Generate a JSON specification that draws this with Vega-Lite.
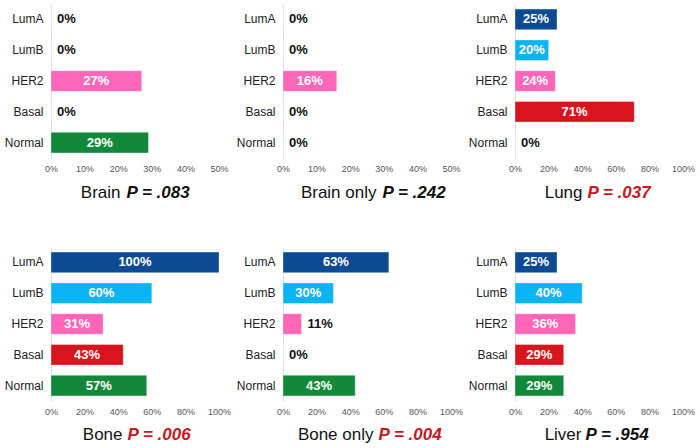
{
  "$schema": "https://vega.github.io/schema/vega-lite/v6.json",
  "padding": {"left": 4, "top": 4, "right": 2, "bottom": 2},
  "background": "white",
  "config": {"view": {"stroke": null}, "font": "Liberation Sans", "axisX": {"labelFlush": false, "labelOverlap": false, "labelBound": false}},
  "data": {"values": [
    {"panel": "Brain", "subtype": "LumA", "v": 0},
    {"panel": "Brain", "subtype": "LumB", "v": 0},
    {"panel": "Brain", "subtype": "HER2", "v": 0.27},
    {"panel": "Brain", "subtype": "Basal", "v": 0},
    {"panel": "Brain", "subtype": "Normal", "v": 0.29},
    {"panel": "Brain only", "subtype": "LumA", "v": 0},
    {"panel": "Brain only", "subtype": "LumB", "v": 0},
    {"panel": "Brain only", "subtype": "HER2", "v": 0.16},
    {"panel": "Brain only", "subtype": "Basal", "v": 0},
    {"panel": "Brain only", "subtype": "Normal", "v": 0},
    {"panel": "Lung", "subtype": "LumA", "v": 0.25},
    {"panel": "Lung", "subtype": "LumB", "v": 0.20},
    {"panel": "Lung", "subtype": "HER2", "v": 0.24},
    {"panel": "Lung", "subtype": "Basal", "v": 0.71},
    {"panel": "Lung", "subtype": "Normal", "v": 0},
    {"panel": "Bone", "subtype": "LumA", "v": 1.0},
    {"panel": "Bone", "subtype": "LumB", "v": 0.60},
    {"panel": "Bone", "subtype": "HER2", "v": 0.31},
    {"panel": "Bone", "subtype": "Basal", "v": 0.43},
    {"panel": "Bone", "subtype": "Normal", "v": 0.57},
    {"panel": "Bone only", "subtype": "LumA", "v": 0.63},
    {"panel": "Bone only", "subtype": "LumB", "v": 0.30},
    {"panel": "Bone only", "subtype": "HER2", "v": 0.11},
    {"panel": "Bone only", "subtype": "Basal", "v": 0},
    {"panel": "Bone only", "subtype": "Normal", "v": 0.43},
    {"panel": "Liver", "subtype": "LumA", "v": 0.25},
    {"panel": "Liver", "subtype": "LumB", "v": 0.40},
    {"panel": "Liver", "subtype": "HER2", "v": 0.36},
    {"panel": "Liver", "subtype": "Basal", "v": 0.29},
    {"panel": "Liver", "subtype": "Normal", "v": 0.29}
  ]},
  "columns": 3,
  "bounds": "flush",
  "spacing": {"row": 89, "column": 64},
  "concat": [
      {"width": 168, "height": 154, "transform": [{"filter": "datum.panel === 'Brain'"}], "resolve": {"scale": {"x": "independent"}},
       "layer": [
        {"mark": {"type": "bar", "stroke": "white", "strokeOpacity": 0.35, "strokeWidth": 1},
         "encoding": {
          "y": {"field": "subtype", "type": "nominal", "sort": ["LumA", "LumB", "HER2", "Basal", "Normal"], "scale": {"paddingInner": 0.33, "paddingOuter": 0.165},
                "axis": {"title": "Brain", "titleAngle": 0, "titleAlign": "right", "titleBaseline": "alphabetic", "titleX": 69, "titleY": 193, "titleFontSize": 17, "titleFontWeight": "normal", "titleColor": "#111", "ticks": false, "domainColor": "#dddddd", "labelPadding": 8, "labelFontSize": 12, "labelColor": "#222"}},
          "x": {"field": "v", "type": "quantitative", "scale": {"domain": [0, 0.5]},
                "axis": {"title": "P = .083", "titleAlign": "left", "titleBaseline": "alphabetic", "titleX": 75, "titleY": 39, "titleFontSize": 17, "titleFontWeight": "bold", "titleFontStyle": "italic", "titleColor": "#111", "values": [0, 0.1, 0.2, 0.3, 0.4, 0.5], "format": ".0%", "grid": false, "ticks": false, "domain": false, "labelPadding": 6, "labelFontSize": 9, "labelColor": "#555"}},
          "color": {"field": "subtype", "type": "nominal", "legend": null, "scale": {"domain": ["LumA", "LumB", "HER2", "Basal", "Normal"], "range": ["#0c4a92", "#0ab4f5", "#ff66b8", "#d8141c", "#12893a"]}}
         }},
        {"transform": [{"filter": "datum.v >= 0.15"}], "mark": {"type": "text", "color": "white", "fontWeight": "bold", "fontSize": 13, "align": "center", "baseline": "middle"},
         "encoding": {"y": {"field": "subtype", "type": "nominal", "sort": ["LumA", "LumB", "HER2", "Basal", "Normal"]}, "x": {"field": "v", "type": "quantitative", "scale": {"domain": [0, 1.0]}, "axis": null}, "text": {"field": "v", "format": ".0%"}}},
        {"transform": [{"filter": "datum.v < 0.15"}], "mark": {"type": "text", "color": "#111", "fontWeight": "bold", "fontSize": 13, "align": "left", "baseline": "middle", "dx": 6},
         "encoding": {"y": {"field": "subtype", "type": "nominal", "sort": ["LumA", "LumB", "HER2", "Basal", "Normal"]}, "x": {"field": "v", "type": "quantitative", "scale": {"domain": [0, 0.5]}, "axis": null}, "text": {"field": "v", "format": ".0%"}}}
       ]},
      {"width": 168, "height": 154, "transform": [{"filter": "datum.panel === 'Brain only'"}], "resolve": {"scale": {"x": "independent"}},
       "layer": [
        {"mark": {"type": "bar", "stroke": "white", "strokeOpacity": 0.35, "strokeWidth": 1},
         "encoding": {
          "y": {"field": "subtype", "type": "nominal", "sort": ["LumA", "LumB", "HER2", "Basal", "Normal"], "scale": {"paddingInner": 0.33, "paddingOuter": 0.165},
                "axis": {"title": "Brain only", "titleAngle": 0, "titleAlign": "right", "titleBaseline": "alphabetic", "titleX": 93, "titleY": 193, "titleFontSize": 17, "titleFontWeight": "normal", "titleColor": "#111", "ticks": false, "domainColor": "#dddddd", "labelPadding": 8, "labelFontSize": 12, "labelColor": "#222"}},
          "x": {"field": "v", "type": "quantitative", "scale": {"domain": [0, 0.5]},
                "axis": {"title": "P = .242", "titleAlign": "left", "titleBaseline": "alphabetic", "titleX": 99, "titleY": 39, "titleFontSize": 17, "titleFontWeight": "bold", "titleFontStyle": "italic", "titleColor": "#111", "values": [0, 0.1, 0.2, 0.3, 0.4, 0.5], "format": ".0%", "grid": false, "ticks": false, "domain": false, "labelPadding": 6, "labelFontSize": 9, "labelColor": "#555"}},
          "color": {"field": "subtype", "type": "nominal", "legend": null, "scale": {"domain": ["LumA", "LumB", "HER2", "Basal", "Normal"], "range": ["#0c4a92", "#0ab4f5", "#ff66b8", "#d8141c", "#12893a"]}}
         }},
        {"transform": [{"filter": "datum.v >= 0.15"}], "mark": {"type": "text", "color": "white", "fontWeight": "bold", "fontSize": 13, "align": "center", "baseline": "middle"},
         "encoding": {"y": {"field": "subtype", "type": "nominal", "sort": ["LumA", "LumB", "HER2", "Basal", "Normal"]}, "x": {"field": "v", "type": "quantitative", "scale": {"domain": [0, 1.0]}, "axis": null}, "text": {"field": "v", "format": ".0%"}}},
        {"transform": [{"filter": "datum.v < 0.15"}], "mark": {"type": "text", "color": "#111", "fontWeight": "bold", "fontSize": 13, "align": "left", "baseline": "middle", "dx": 6},
         "encoding": {"y": {"field": "subtype", "type": "nominal", "sort": ["LumA", "LumB", "HER2", "Basal", "Normal"]}, "x": {"field": "v", "type": "quantitative", "scale": {"domain": [0, 0.5]}, "axis": null}, "text": {"field": "v", "format": ".0%"}}}
       ]},
      {"width": 168, "height": 154, "transform": [{"filter": "datum.panel === 'Lung'"}], "resolve": {"scale": {"x": "independent"}},
       "layer": [
        {"mark": {"type": "bar", "stroke": "white", "strokeOpacity": 0.35, "strokeWidth": 1},
         "encoding": {
          "y": {"field": "subtype", "type": "nominal", "sort": ["LumA", "LumB", "HER2", "Basal", "Normal"], "scale": {"paddingInner": 0.33, "paddingOuter": 0.165},
                "axis": {"title": "Lung", "titleAngle": 0, "titleAlign": "right", "titleBaseline": "alphabetic", "titleX": 67, "titleY": 193, "titleFontSize": 17, "titleFontWeight": "normal", "titleColor": "#111", "ticks": false, "domainColor": "#dddddd", "labelPadding": 8, "labelFontSize": 12, "labelColor": "#222"}},
          "x": {"field": "v", "type": "quantitative", "scale": {"domain": [0, 1]},
                "axis": {"title": "P = .037", "titleAlign": "left", "titleBaseline": "alphabetic", "titleX": 72, "titleY": 39, "titleFontSize": 17, "titleFontWeight": "bold", "titleFontStyle": "italic", "titleColor": "#c8161d", "values": [0, 0.2, 0.4, 0.6, 0.8, 1], "format": ".0%", "grid": false, "ticks": false, "domain": false, "labelPadding": 6, "labelFontSize": 9, "labelColor": "#555"}},
          "color": {"field": "subtype", "type": "nominal", "legend": null, "scale": {"domain": ["LumA", "LumB", "HER2", "Basal", "Normal"], "range": ["#0c4a92", "#0ab4f5", "#ff66b8", "#d8141c", "#12893a"]}}
         }},
        {"transform": [{"filter": "datum.v >= 0.15"}], "mark": {"type": "text", "color": "white", "fontWeight": "bold", "fontSize": 13, "align": "center", "baseline": "middle"},
         "encoding": {"y": {"field": "subtype", "type": "nominal", "sort": ["LumA", "LumB", "HER2", "Basal", "Normal"]}, "x": {"field": "v", "type": "quantitative", "scale": {"domain": [0, 2]}, "axis": null}, "text": {"field": "v", "format": ".0%"}}},
        {"transform": [{"filter": "datum.v < 0.15"}], "mark": {"type": "text", "color": "#111", "fontWeight": "bold", "fontSize": 13, "align": "left", "baseline": "middle", "dx": 6},
         "encoding": {"y": {"field": "subtype", "type": "nominal", "sort": ["LumA", "LumB", "HER2", "Basal", "Normal"]}, "x": {"field": "v", "type": "quantitative", "scale": {"domain": [0, 1]}, "axis": null}, "text": {"field": "v", "format": ".0%"}}}
       ]},
      {"width": 168, "height": 154, "transform": [{"filter": "datum.panel === 'Bone'"}], "resolve": {"scale": {"x": "independent"}},
       "layer": [
        {"mark": {"type": "bar", "stroke": "white", "strokeOpacity": 0.35, "strokeWidth": 1},
         "encoding": {
          "y": {"field": "subtype", "type": "nominal", "sort": ["LumA", "LumB", "HER2", "Basal", "Normal"], "scale": {"paddingInner": 0.33, "paddingOuter": 0.165},
                "axis": {"title": "Bone", "titleAngle": 0, "titleAlign": "right", "titleBaseline": "alphabetic", "titleX": 71, "titleY": 192, "titleFontSize": 17, "titleFontWeight": "normal", "titleColor": "#111", "ticks": false, "domainColor": "#dddddd", "labelPadding": 8, "labelFontSize": 12, "labelColor": "#222"}},
          "x": {"field": "v", "type": "quantitative", "scale": {"domain": [0, 1]},
                "axis": {"title": "P = .006", "titleAlign": "left", "titleBaseline": "alphabetic", "titleX": 76, "titleY": 38, "titleFontSize": 17, "titleFontWeight": "bold", "titleFontStyle": "italic", "titleColor": "#c8161d", "values": [0, 0.2, 0.4, 0.6, 0.8, 1], "format": ".0%", "grid": false, "ticks": false, "domain": false, "labelPadding": 6, "labelFontSize": 9, "labelColor": "#555"}},
          "color": {"field": "subtype", "type": "nominal", "legend": null, "scale": {"domain": ["LumA", "LumB", "HER2", "Basal", "Normal"], "range": ["#0c4a92", "#0ab4f5", "#ff66b8", "#d8141c", "#12893a"]}}
         }},
        {"transform": [{"filter": "datum.v >= 0.15"}], "mark": {"type": "text", "color": "white", "fontWeight": "bold", "fontSize": 13, "align": "center", "baseline": "middle"},
         "encoding": {"y": {"field": "subtype", "type": "nominal", "sort": ["LumA", "LumB", "HER2", "Basal", "Normal"]}, "x": {"field": "v", "type": "quantitative", "scale": {"domain": [0, 2]}, "axis": null}, "text": {"field": "v", "format": ".0%"}}},
        {"transform": [{"filter": "datum.v < 0.15"}], "mark": {"type": "text", "color": "#111", "fontWeight": "bold", "fontSize": 13, "align": "left", "baseline": "middle", "dx": 6},
         "encoding": {"y": {"field": "subtype", "type": "nominal", "sort": ["LumA", "LumB", "HER2", "Basal", "Normal"]}, "x": {"field": "v", "type": "quantitative", "scale": {"domain": [0, 1]}, "axis": null}, "text": {"field": "v", "format": ".0%"}}}
       ]},
      {"width": 168, "height": 154, "transform": [{"filter": "datum.panel === 'Bone only'"}], "resolve": {"scale": {"x": "independent"}},
       "layer": [
        {"mark": {"type": "bar", "stroke": "white", "strokeOpacity": 0.35, "strokeWidth": 1},
         "encoding": {
          "y": {"field": "subtype", "type": "nominal", "sort": ["LumA", "LumB", "HER2", "Basal", "Normal"], "scale": {"paddingInner": 0.33, "paddingOuter": 0.165},
                "axis": {"title": "Bone only", "titleAngle": 0, "titleAlign": "right", "titleBaseline": "alphabetic", "titleX": 90, "titleY": 192, "titleFontSize": 17, "titleFontWeight": "normal", "titleColor": "#111", "ticks": false, "domainColor": "#dddddd", "labelPadding": 8, "labelFontSize": 12, "labelColor": "#222"}},
          "x": {"field": "v", "type": "quantitative", "scale": {"domain": [0, 1]},
                "axis": {"title": "P = .004", "titleAlign": "left", "titleBaseline": "alphabetic", "titleX": 95, "titleY": 38, "titleFontSize": 17, "titleFontWeight": "bold", "titleFontStyle": "italic", "titleColor": "#c8161d", "values": [0, 0.2, 0.4, 0.6, 0.8, 1], "format": ".0%", "grid": false, "ticks": false, "domain": false, "labelPadding": 6, "labelFontSize": 9, "labelColor": "#555"}},
          "color": {"field": "subtype", "type": "nominal", "legend": null, "scale": {"domain": ["LumA", "LumB", "HER2", "Basal", "Normal"], "range": ["#0c4a92", "#0ab4f5", "#ff66b8", "#d8141c", "#12893a"]}}
         }},
        {"transform": [{"filter": "datum.v >= 0.15"}], "mark": {"type": "text", "color": "white", "fontWeight": "bold", "fontSize": 13, "align": "center", "baseline": "middle"},
         "encoding": {"y": {"field": "subtype", "type": "nominal", "sort": ["LumA", "LumB", "HER2", "Basal", "Normal"]}, "x": {"field": "v", "type": "quantitative", "scale": {"domain": [0, 2]}, "axis": null}, "text": {"field": "v", "format": ".0%"}}},
        {"transform": [{"filter": "datum.v < 0.15"}], "mark": {"type": "text", "color": "#111", "fontWeight": "bold", "fontSize": 13, "align": "left", "baseline": "middle", "dx": 6},
         "encoding": {"y": {"field": "subtype", "type": "nominal", "sort": ["LumA", "LumB", "HER2", "Basal", "Normal"]}, "x": {"field": "v", "type": "quantitative", "scale": {"domain": [0, 1]}, "axis": null}, "text": {"field": "v", "format": ".0%"}}}
       ]},
      {"width": 168, "height": 154, "transform": [{"filter": "datum.panel === 'Liver'"}], "resolve": {"scale": {"x": "independent"}},
       "layer": [
        {"mark": {"type": "bar", "stroke": "white", "strokeOpacity": 0.35, "strokeWidth": 1},
         "encoding": {
          "y": {"field": "subtype", "type": "nominal", "sort": ["LumA", "LumB", "HER2", "Basal", "Normal"], "scale": {"paddingInner": 0.33, "paddingOuter": 0.165},
                "axis": {"title": "Liver", "titleAngle": 0, "titleAlign": "right", "titleBaseline": "alphabetic", "titleX": 66, "titleY": 192, "titleFontSize": 17, "titleFontWeight": "normal", "titleColor": "#111", "ticks": false, "domainColor": "#dddddd", "labelPadding": 8, "labelFontSize": 12, "labelColor": "#222"}},
          "x": {"field": "v", "type": "quantitative", "scale": {"domain": [0, 1]},
                "axis": {"title": "P = .954", "titleAlign": "left", "titleBaseline": "alphabetic", "titleX": 70, "titleY": 38, "titleFontSize": 17, "titleFontWeight": "bold", "titleFontStyle": "italic", "titleColor": "#111", "values": [0, 0.2, 0.4, 0.6, 0.8, 1], "format": ".0%", "grid": false, "ticks": false, "domain": false, "labelPadding": 6, "labelFontSize": 9, "labelColor": "#555"}},
          "color": {"field": "subtype", "type": "nominal", "legend": null, "scale": {"domain": ["LumA", "LumB", "HER2", "Basal", "Normal"], "range": ["#0c4a92", "#0ab4f5", "#ff66b8", "#d8141c", "#12893a"]}}
         }},
        {"transform": [{"filter": "datum.v >= 0.15"}], "mark": {"type": "text", "color": "white", "fontWeight": "bold", "fontSize": 13, "align": "center", "baseline": "middle"},
         "encoding": {"y": {"field": "subtype", "type": "nominal", "sort": ["LumA", "LumB", "HER2", "Basal", "Normal"]}, "x": {"field": "v", "type": "quantitative", "scale": {"domain": [0, 2]}, "axis": null}, "text": {"field": "v", "format": ".0%"}}},
        {"transform": [{"filter": "datum.v < 0.15"}], "mark": {"type": "text", "color": "#111", "fontWeight": "bold", "fontSize": 13, "align": "left", "baseline": "middle", "dx": 6},
         "encoding": {"y": {"field": "subtype", "type": "nominal", "sort": ["LumA", "LumB", "HER2", "Basal", "Normal"]}, "x": {"field": "v", "type": "quantitative", "scale": {"domain": [0, 1]}, "axis": null}, "text": {"field": "v", "format": ".0%"}}}
       ]}
  ]
}
